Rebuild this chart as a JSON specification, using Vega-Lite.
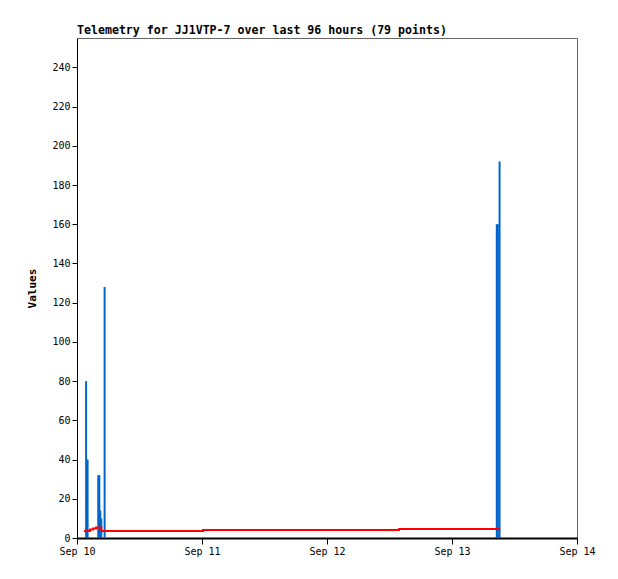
{
  "$schema": "https://vega.github.io/schema/vega-lite/v6.json",
  "width": 500,
  "height": 500,
  "autosize": {"type": "none"},
  "padding": {"left": 77, "top": 38, "right": 41, "bottom": 41},
  "background": "white",
  "title": {"text": "Telemetry for JJ1VTP-7 over last 96 hours (79 points)", "anchor": "start", "frame": "group", "font": "DejaVu Sans Mono", "fontSize": 11.6, "fontWeight": "bold", "color": "black", "offset": 1},
  "config": {
    "view": {"stroke": "#666666", "strokeWidth": 1},
    "axis": {"labelFont": "DejaVu Sans Mono", "labelFontSize": 10, "labelColor": "black", "titleFont": "DejaVu Sans Mono", "titleFontSize": 11, "titleFontWeight": "bold", "titleColor": "black", "domainColor": "black", "tickColor": "black", "grid": false}
  },
  "datasets": {
    "volt": [
      {"t": "2025-09-10T01:20:00", "v": 3.6},
      {"t": "2025-09-10T02:30:00", "v": 4.3},
      {"t": "2025-09-10T03:05:00", "v": 4.8},
      {"t": "2025-09-10T03:40:00", "v": 5.3},
      {"t": "2025-09-10T04:40:00", "v": 3.6},
      {"t": "2025-09-11T00:12:00", "v": 4.1},
      {"t": "2025-09-12T13:50:00", "v": 4.6},
      {"t": "2025-09-13T09:15:00", "v": 4.6}
    ],
    "spikes": [
      {"t": "2025-09-10T01:45:00", "v": 80},
      {"t": "2025-09-10T02:02:00", "v": 40},
      {"t": "2025-09-10T04:05:00", "v": 32},
      {"t": "2025-09-10T04:17:00", "v": 32},
      {"t": "2025-09-10T04:28:00", "v": 14},
      {"t": "2025-09-10T04:40:00", "v": 10},
      {"t": "2025-09-10T05:18:00", "v": 128},
      {"t": "2025-09-13T08:36:00", "v": 160},
      {"t": "2025-09-13T08:48:00", "v": 160},
      {"t": "2025-09-13T09:08:00", "v": 192}
    ]
  },
  "encoding": {
    "x": {"field": "t", "type": "temporal", "title": null,
      "scale": {"domain": [{"year": 2025, "month": 9, "date": 10}, {"year": 2025, "month": 9, "date": 14}]},
      "axis": {"values": [{"year": 2025, "month": 9, "date": 10}, {"year": 2025, "month": 9, "date": 11}, {"year": 2025, "month": 9, "date": 12}, {"year": 2025, "month": 9, "date": 13}, {"year": 2025, "month": 9, "date": 14}], "format": "%b %d", "labelFlush": false, "labelOverlap": false, "tickSize": 6, "domainWidth": 2}}
  },
  "layer": [
    {
      "data": {"name": "spikes"},
      "mark": {"type": "rule", "color": "#0066CC", "strokeWidth": 2},
      "encoding": {
        "y": {"field": "v", "type": "quantitative", "title": "Values",
          "scale": {"domain": [0, 255], "nice": false},
          "axis": {"values": [0, 20, 40, 60, 80, 100, 120, 140, 160, 180, 200, 220, 240], "tickSize": 5, "titlePadding": 14}},
        "y2": {"datum": 0}
      }
    },
    {
      "data": {"name": "volt"},
      "mark": {"type": "line", "color": "#FF0000", "strokeWidth": 2, "interpolate": "step-after"},
      "encoding": {
        "y": {"field": "v", "type": "quantitative"}
      }
    }
  ]
}
